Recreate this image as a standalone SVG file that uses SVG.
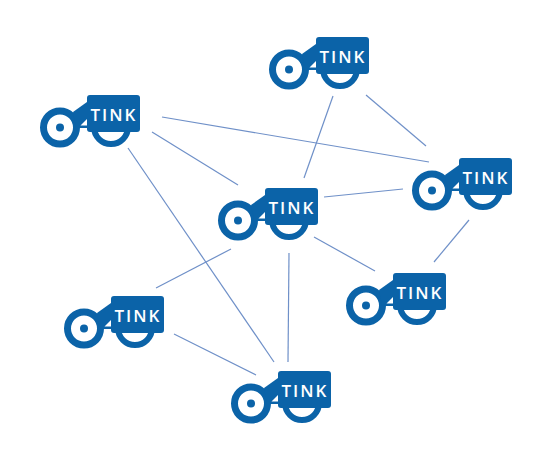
<svg xmlns="http://www.w3.org/2000/svg" width="560" height="450" viewBox="0 0 560 450">
<style>
.c line{stroke:#6f90c8;stroke-width:1.200;fill:none}
.t{font:600 17px "Open Sans","Liberation Sans",Arial,sans-serif;fill:#fff;letter-spacing:2px}
.b{fill:#0b63a8}
.r{fill:none;stroke:#0b63a8}
</style>
<defs>
<g id="icon">
<circle class="r" cx="24" cy="32.500" r="16.500" stroke-width="7"/>
<circle class="b" cx="24" cy="32.500" r="4"/>
<path class="b" d="M37 17L51 7V33H40Z"/>
<path d="M44.500 30.500L51 24V30.500Z" fill="#fff"/>
<circle class="r" cx="75" cy="32" r="17" stroke-width="6"/>
<rect class="b" x="51" y="0" width="53" height="37" rx="3"/>
</g>
</defs>
<g id="connectors" class="c">
<line x1="333" y1="96" x2="304" y2="178"/>
<line x1="366" y1="95" x2="426" y2="146"/>
<line x1="162" y1="117" x2="429" y2="162"/>
<line x1="152" y1="132" x2="238" y2="185"/>
<line x1="128" y1="148" x2="274" y2="362"/>
<line x1="324" y1="197" x2="403" y2="189"/>
<line x1="469" y1="220" x2="434" y2="262"/>
<line x1="314" y1="237" x2="375" y2="271"/>
<line x1="231" y1="249" x2="156" y2="288"/>
<line x1="289" y1="253" x2="288" y2="362"/>
<line x1="174" y1="334" x2="256" y2="375"/>
</g>
<g id="node-top" transform="translate(265,37)"><use href="#icon"/><text class="t" x="78" y="25.500" text-anchor="middle">TINK</text></g>
<g id="node-left" transform="translate(36,95)"><use href="#icon"/><text class="t" x="78" y="25.500" text-anchor="middle">TINK</text></g>
<g id="node-center" transform="translate(214,188)"><use href="#icon"/><text class="t" x="78" y="25.500" text-anchor="middle">TINK</text></g>
<g id="node-right" transform="translate(408,158)"><use href="#icon"/><text class="t" x="78" y="25.500" text-anchor="middle">TINK</text></g>
<g id="node-midright" transform="translate(342,273)"><use href="#icon"/><text class="t" x="78" y="25.500" text-anchor="middle">TINK</text></g>
<g id="node-lowleft" transform="translate(60,296)"><use href="#icon"/><text class="t" x="78" y="25.500" text-anchor="middle">TINK</text></g>
<g id="node-bottom" transform="translate(227,371)"><use href="#icon"/><text class="t" x="78" y="25.500" text-anchor="middle">TINK</text></g>
</svg>
